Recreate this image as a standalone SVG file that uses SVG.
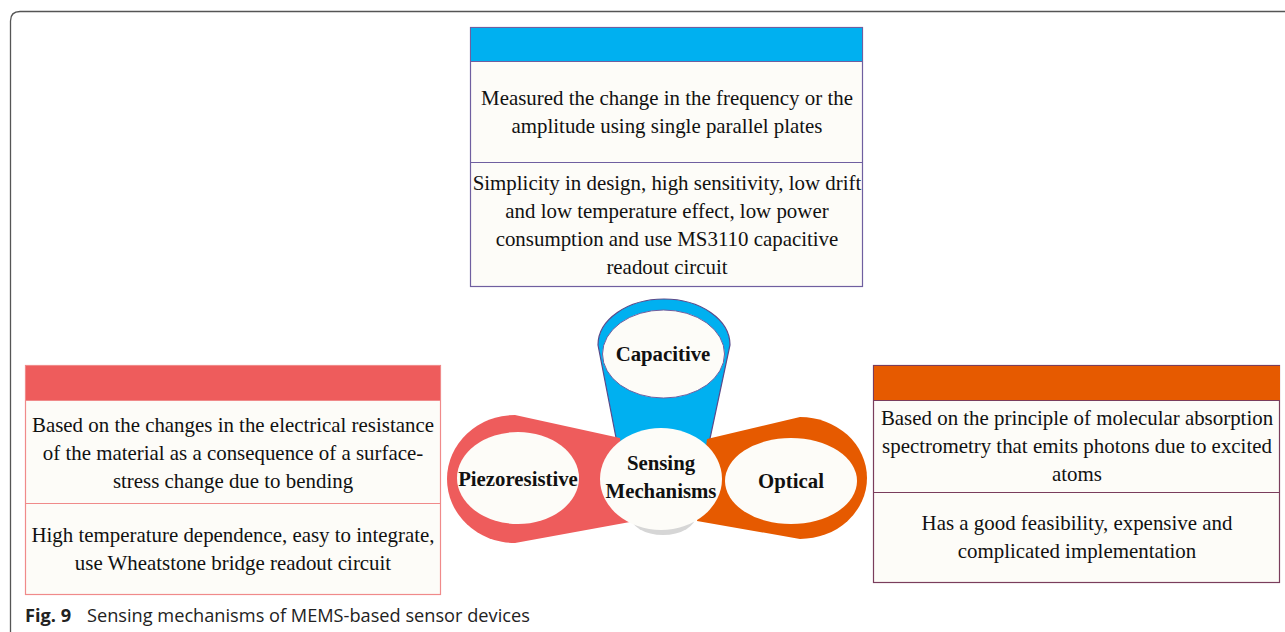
<svg xmlns="http://www.w3.org/2000/svg" width="1285" height="632" viewBox="0 0 1285 632">
<style>
.body{font-family:"Liberation Serif","Times New Roman",serif;font-size:20.9px;fill:#111;text-anchor:middle}
.lbl{font-family:"Liberation Serif","Times New Roman",serif;font-size:20.8px;font-weight:bold;fill:#111;text-anchor:middle}
.cap{font-family:"Open Sans","DejaVu Sans",sans-serif;font-size:18.2px;fill:#222}
.box{fill:#fdfcf8}
</style>
<rect width="1285" height="632" fill="#fff"/>
<path d="M10.5,632 L10.5,21 Q10.5,11.5 20,11.5 L1285,11.5" fill="none" stroke="#555" stroke-width="1.3"/>

<g id="capacitive-box">
<rect class="box" x="470.5" y="27.5" width="392" height="259" stroke="#6f5fa0" stroke-width="1.2"/>
<rect x="471" y="28" width="391" height="33" fill="#00b0f0"/>
<line x1="470.5" y1="61.5" x2="862.5" y2="61.5" stroke="#6f5fa0" stroke-width="1.2"/>
<line x1="470.5" y1="162.5" x2="862.5" y2="162.5" stroke="#6f5fa0" stroke-width="1.2"/>
<text class="body" x="667" y="105">Measured the change in the frequency or the</text>
<text class="body" x="667" y="133">amplitude using single parallel plates</text>
<text class="body" x="667" y="190">Simplicity in design, high sensitivity, low drift</text>
<text class="body" x="667" y="218">and low temperature effect, low power</text>
<text class="body" x="667" y="246">consumption and use MS3110 capacitive</text>
<text class="body" x="667" y="274">readout circuit</text>
</g>

<g id="piezoresistive-box">
<rect class="box" x="25.5" y="365.5" width="415" height="229" stroke="#f08a8a" stroke-width="1.2"/>
<rect x="26" y="366" width="414" height="34" fill="#ee5c5c"/>
<line x1="25.5" y1="400.5" x2="440.5" y2="400.5" stroke="#f08a8a" stroke-width="1.2"/>
<line x1="25.5" y1="503.5" x2="440.5" y2="503.5" stroke="#f08a8a" stroke-width="1.2"/>
<text class="body" x="233" y="432">Based on the changes in the electrical resistance</text>
<text class="body" x="233" y="460">of the material as a consequence of a surface-</text>
<text class="body" x="233" y="488">stress change due to bending</text>
<text class="body" x="233" y="542">High temperature dependence, easy to integrate,</text>
<text class="body" x="233" y="570">use Wheatstone bridge readout circuit</text>
</g>

<g id="optical-box">
<rect class="box" x="873.5" y="365.5" width="406" height="217" stroke="#7a3d5c" stroke-width="1.2"/>
<rect x="874" y="366" width="406" height="34" fill="#e65a00"/>
<line x1="873.5" y1="400.5" x2="1279.5" y2="400.5" stroke="#7a3d5c" stroke-width="1.2"/>
<line x1="873.5" y1="492.5" x2="1279.5" y2="492.5" stroke="#7a3d5c" stroke-width="1.2"/>
<text class="body" x="1077" y="425">Based on the principle of molecular absorption</text>
<text class="body" x="1077" y="453">spectrometry that emits photons due to excited</text>
<text class="body" x="1077" y="481">atoms</text>
<text class="body" x="1077" y="530">Has a good feasibility, expensive and</text>
<text class="body" x="1077" y="558">complicated implementation</text>
</g>

<g id="connectors">
<path d="M598,345 A66,46 0 0 1 730,345 L708,448 L618,448 Z" fill="#00b0f0" stroke="#5a4a8a" stroke-width="1.2"/>
<path d="M515,415 L620,438 L630,522 L515,543 A68,64 0 0 1 515,415 Z" fill="#ee5c5c"/>
<path d="M800,417 A67,61 0 0 1 800,539 L697,521 L707,439 Z" fill="#e65a00"/>
<ellipse cx="663" cy="515" rx="33" ry="20" fill="#d6d6d6"/>
</g>

<g id="capacitive">
<ellipse cx="663.5" cy="354" rx="61" ry="44" fill="#fdfcf8" stroke="#6f5fa0" stroke-width="1"/>
<text class="lbl" x="663" y="361">Capacitive</text>
</g>
<g id="piezoresistive">
<ellipse cx="518" cy="478" rx="61" ry="46" fill="#fdfcf8"/>
<text class="lbl" x="518" y="486">Piezoresistive</text>
</g>
<g id="optical">
<ellipse cx="791" cy="481" rx="66" ry="43" fill="#fdfcf8"/>
<text class="lbl" x="791" y="488">Optical</text>
</g>
<g id="sensing-mechanisms">
<ellipse cx="661" cy="479" rx="61" ry="51" fill="#fdfcf8"/>
<text class="lbl" x="661" y="470">Sensing</text>
<text class="lbl" x="661" y="498">Mechanisms</text>
</g>

<text class="cap" x="25" y="622" font-weight="bold" fill="#111" font-size="20px">Fig. 9</text>
<text class="cap" x="87" y="622">Sensing mechanisms of MEMS-based sensor devices</text>
</svg>
